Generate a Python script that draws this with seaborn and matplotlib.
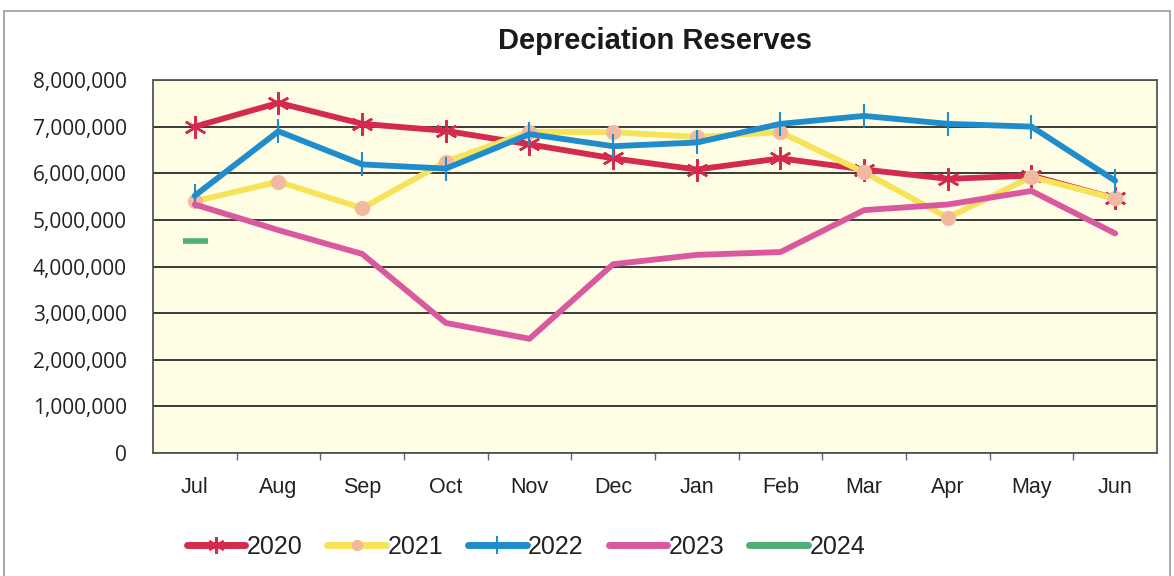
import matplotlib
matplotlib.use("Agg")
import matplotlib.pyplot as plt
import seaborn as sns
import pandas as pd
from matplotlib.patches import Rectangle
from matplotlib.ticker import FuncFormatter, MultipleLocator
from matplotlib import font_manager

months = ["Jul", "Aug", "Sep", "Oct", "Nov", "Dec", "Jan", "Feb", "Mar", "Apr", "May", "Jun"]
y2020 = [7.00, 7.51, 7.06, 6.91, 6.62, 6.32, 6.08, 6.32, 6.08, 5.88, 5.95, 5.46]
y2021 = [5.40, 5.82, 5.25, 6.25, 6.89, 6.88, 6.78, 6.88, 6.02, 5.05, 5.92, 5.46]
y2022 = [5.52, 6.90, 6.19, 6.10, 6.84, 6.58, 6.66, 7.06, 7.23, 7.06, 7.00, 5.84]
y2023 = [5.33, 4.78, 4.27, 2.79, 2.45, 4.05, 4.25, 4.31, 5.21, 5.33, 5.62, 4.71]
y2024 = [4.55]
years = ["2020", "2021", "2022", "2023", "2024"]

series = {"2020": y2020, "2021": y2021, "2022": y2022, "2023": y2023, "2024": y2024}
rows = []
for yr, vals in series.items():
    for m, v in zip(months, vals):
        rows.append({"Month": m, "Value": v * 1_000_000, "Year": yr})
df = pd.DataFrame(rows)
df["pos"] = df["Month"].map({m: i for i, m in enumerate(months)})

sns.set_theme(style="white")
plt.rcParams["font.family"] = ["Liberation Sans", "DejaVu Sans"]

installed = {f.name for f in font_manager.fontManager.ttflist}
ylab_font = "Open Sans" if "Open Sans" in installed else "Liberation Sans"

colors = {"2020": "#D42A50", "2021": "#F7E35A", "2022": "#1F8CCB",
          "2023": "#D9589E", "2024": "#4DAF78"}
styles = {
    "2020": dict(marker=(6, 2, 0), markersize=16, markeredgewidth=1.8,
                 markeredgecolor="#D42A50", markerfacecolor="#D42A50"),
    "2021": dict(marker="o", markersize=11, markeredgewidth=0,
                 markerfacecolor="#F2B9A0"),
    "2022": dict(marker="|", markersize=17, markeredgewidth=1.5,
                 markeredgecolor="#1F8CCB"),
    "2023": dict(marker=None),
    "2024": dict(marker="_", markersize=18, markeredgewidth=4,
                 markeredgecolor="#4DAF78"),
}

fig = plt.figure(figsize=(11.74, 5.76), dpi=100)
fig.patch.set_facecolor("white")
fig.patches.append(Rectangle((0.003, -0.01), 0.994, 0.991, transform=fig.transFigure,
                             fill=False, edgecolor="#9a9a9a", linewidth=1.2))

ax = fig.add_axes([0.1303, 0.2135, 0.8552, 0.6476])
ax.set_facecolor("#FFFDE3")

for yr in years:
    sub = df[df["Year"] == yr]
    sns.lineplot(data=sub, x="pos", y="Value", ax=ax, color=colors[yr],
                 linewidth=4.2, label=yr, sort=False, **styles[yr])

ax.set_xlim(-0.5, 11.5)
ax.set_ylim(0, 8_000_000)
ax.yaxis.set_major_locator(MultipleLocator(1_000_000))
ax.yaxis.set_major_formatter(FuncFormatter(lambda v, p: f"{int(v):,}"))
ax.set_xticks(range(len(months)))
ax.set_xticklabels(months)
ax.set_xticks([i - 0.5 for i in range(1, 12)], minor=True)
ax.tick_params(axis="x", which="major", length=0, pad=17)
ax.tick_params(axis="x", which="minor", length=5, color="#666666", bottom=True)
ax.tick_params(axis="y", length=0, pad=19)
for lab in ax.get_xticklabels():
    lab.set_fontsize(15.5)
    lab.set_color("#222222")
for lab in ax.get_yticklabels():
    lab.set_fontfamily(ylab_font)
    lab.set_fontsize(15)
    lab.set_color("#222222")
ax.grid(axis="y", color="#3a3a3a", linewidth=1.4)
ax.set_axisbelow(True)
ax.set_xlabel("")
ax.set_ylabel("")
for side in ["left", "bottom", "right", "top"]:
    ax.spines[side].set_color("#555555")
    ax.spines[side].set_linewidth(1.3)

ax.set_title("Depreciation Reserves", fontsize=21, fontweight="bold", pad=22,
             color="#1a1a1a")

leg = ax.legend(loc="center", bbox_to_anchor=(0.3715, -0.252), ncol=5, frameon=False,
                fontsize=18, handlelength=2.35, handletextpad=0.05, columnspacing=1.0)
for h in leg.legend_handles:
    h.set_linewidth(5)
    if h.get_marker() not in (None, "None", ""):
        h.set_markersize(h.get_markersize() * 0.75)
for t in leg.get_texts():
    t.set_color("#222222")

fig.savefig("out.png", dpi=100, facecolor="white")
